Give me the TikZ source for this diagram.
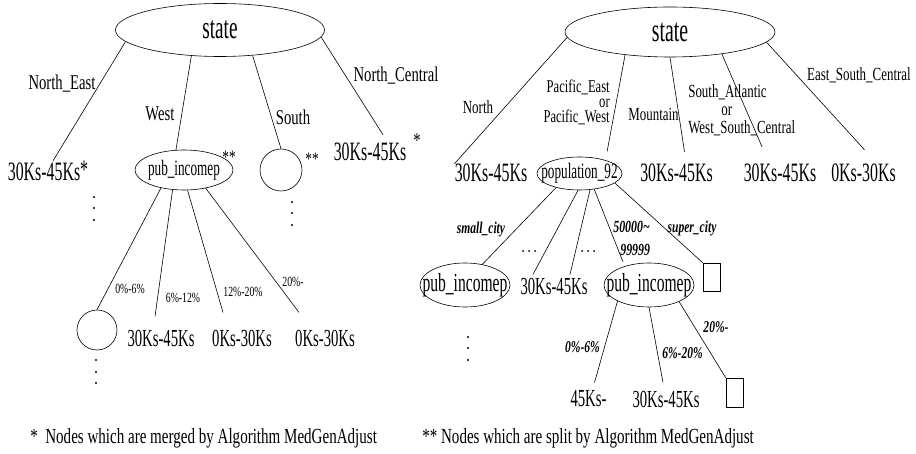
\documentclass[tikz,border=0pt]{standalone}
\usepackage{fontspec}
\setmainfont{Liberation Serif}[FakeStretch=0.7]
\newfontfamily\narrowrm{Liberation Serif}[FakeStretch=0.6]
\usetikzlibrary{shapes.geometric}

\begin{document}
\begin{tikzpicture}[x=1pt, y=-1pt, line width=0.6pt,
    fs/.style={font=\fontsize{#1}{#1}\selectfont},
    ns/.style={font=\fontsize{#1}{#1}\selectfont\narrowrm},
    ell/.style={draw, ellipse, inner sep=0pt},
    leaf/.style={inner sep=0pt, ns=26.5},
    leafs/.style={inner sep=0pt, ns=24.5},
    lbl/.style={inner sep=0pt, fs=21},
    lblr/.style={inner sep=0pt, fs=18.5},
    pct/.style={inner sep=0pt, fs=14},
    bil/.style={inner sep=0pt, font=\fontsize{16.5}{16.5}\selectfont\bfseries\itshape},
    foot/.style={inner sep=0pt, anchor=west, fs=21.5},
    box/.style={draw, inner sep=0pt, minimum width=17pt}]
    \useasboundingbox (0,0) rectangle (916,454);

    % left tree
    \node[ell, minimum width=209pt, minimum height=53pt, ns=32] (stL) at (220,30) {state};
    \node[leaf] (neL) at (48,171) {30Ks-45Ks\raisebox{2pt}{*}};
    \node[ell, minimum width=98pt, minimum height=40pt, ns=22] (puL) at (184,170) {\makebox[0pt]{pub\_incomep}};
    \node[inner sep=0pt, fs=19] (ssA) at (229,157) {**};
    \node[draw, circle, minimum size=42pt, inner sep=0pt] (soL) at (281,170) {};
    \node[inner sep=0pt, fs=19] (ssB) at (312,159) {**};
    \node[leaf] (ncL) at (370,152) {30Ks-45Ks};
    \node[inner sep=0pt, fs=21] (ssC) at (417,141) {*};

    \node[lbl] (tNE) at (62,84) {North\_East};
    \node[lbl] (tW) at (160,114) {West};
    \node[lbl] (tS) at (293,117) {South};
    \node[lbl] (tNC) at (396,76) {North\_Central};

    \draw (stL.187) -- ([xshift=5pt]neL.north);
    \draw (stL.222) -- (puL.112);
    \draw (stL.322) -- (soL.north);
    \draw (stL.356) -- ([xshift=13pt,yshift=8pt]ncL.north);

    % below pub_incomep
    \node[draw, circle, minimum size=40pt, inner sep=0pt] (c1L) at (97,330) {};
    \node[leafs] (c2L) at (161,338) {30Ks-45Ks};
    \node[leafs] (c3L) at (242,338) {0Ks-30Ks};
    \node[leafs] (c4L) at (325,338) {0Ks-30Ks};

    \draw (puL.218) -- (c1L.north);
    \draw (puL.240) -- ([xshift=-6pt,yshift=13pt]c2L.north);
    \draw (puL.280) -- ([xshift=-19pt,yshift=17pt]c3L.north);
    \draw (puL.320) -- ([xshift=-26pt,yshift=17pt]c4L.north);

    \node[pct] (p1L) at (130,289) {0\%-6\%};
    \node[pct] (p2L) at (183,298) {6\%-12\%};
    \node[pct] (p3L) at (243,292) {12\%-20\%};
    \node[pct] (p4L) at (293,282) {20\%-};

    % vertical dots
    \foreach \y in {197,208,220} \fill (94,\y) circle (1.1pt);
    \foreach \y in {202,213,225} \fill (292,\y) circle (1.1pt);
    \foreach \y in {360,372,383} \fill (96,\y) circle (1.1pt);

    % right tree
    \node[ell, minimum width=210pt, minimum height=50pt, ns=33] (stR) at (670,32) {state};
    \node[leaf] (noR) at (491,173) {30Ks-45Ks};
    \node[ell, minimum width=85pt, minimum height=33pt, ns=22] (poR) at (579.5,173.5) {\makebox[0pt]{population\_92}};
    \node[leaf] (moR) at (676.5,173) {30Ks-45Ks};
    \node[leaf] (saR) at (780,173) {30Ks-45Ks};
    \node[leaf] (esR) at (863.5,173) {0Ks-30Ks};

    \node[lblr] (tNo) at (478,107.5) {North};
    \node[lblr, align=right, anchor=east, font=\fontsize{18}{15}\selectfont] (tPa) at (610,102)
        {Pacific\_East\\or\hspace*{26pt}\\Pacific\_West};
    \node[lblr] (tMo) at (653.5,114) {Mountain};
    \node[lblr, align=left, anchor=west, font=\fontsize{18.5}{18}\selectfont] (tSA) at (688,110)
        {South\_Atlantic\\\hspace*{33pt}or\\West\_South\_Central};
    \node[lblr] (tES) at (859,75) {East\_South\_Central};

    \draw (stR.183) -- (noR.north west);
    \draw (stR.207) -- ([yshift=9pt]poR.25);
    \draw (stR.south) -- ([xshift=8pt,yshift=12pt]moR.north);
    \draw (stR.337) -- ([xshift=-18pt,yshift=17pt]saR.north);
    \draw (stR.354) -- ([xshift=1pt,yshift=14pt]esR.north);

    % below population_92
    \node[ell, minimum width=90pt, minimum height=44pt, ns=26] (plR) at (465,285) {\makebox[0pt]{pub\_incomep}};
    \node[leafs] (l2R) at (554,286) {30Ks-45Ks};
    \node[ell, minimum width=90pt, minimum height=44pt, ns=26] (prR) at (649,285) {\makebox[0pt]{pub\_incomep}};
    \node[box, minimum height=28pt] (b1R) at (711.5,277) {};

    \draw (poR.211) -- (plR.50);
    \draw (poR.265) -- ([xshift=-21pt,yshift=3pt]l2R.north);
    \draw (poR.303) -- ([xshift=16pt,yshift=3pt]l2R.north);
    \draw (poR.313) -- ([yshift=5pt]prR.145);
    \draw (poR.345) -- (b1R.north west);

    \node[bil] (tsc) at (481,230) {small\_city};
    \node[bil, align=left, anchor=west, font=\fontsize{17}{23}\selectfont\bfseries\itshape] (t5) at (613,238)
        {50000\textasciitilde\\\hspace*{7pt}99999};
    \node[bil] (tsu) at (692,229) {super\_city};

    % horizontal dots
    \foreach \x in {523,529,535} \fill (\x,251) circle (1pt);
    \foreach \x in {582,588,594} \fill (\x,251) circle (1pt);
    \foreach \y in {337,348,360} \fill (468,\y) circle (1.1pt);

    % below the right pub_incomep
    \node[leafs] (k4R) at (588.5,399) {45Ks-};
    \node[leafs] (l3R) at (666,399) {30Ks-45Ks};
    \node[box, minimum height=29pt] (b2R) at (734.5,392.5) {};

    \draw (prR.207) -- ([xshift=6pt,yshift=8pt]k4R.north);
    \draw (prR.south) -- ([xshift=-3pt,yshift=8pt]l3R.north);
    \draw (prR.331) -- (b2R.north west);

    \node[bil] (q1R) at (582.5,347) {0\%-6\%};
    \node[bil] (q2R) at (682.5,353) {6\%-20\%};
    \node[bil] (q3R) at (716,327) {20\%-};

    % notes
    \node[foot] (fnL) at (30,438) {*\ \ Nodes which are merged by Algorithm MedGenAdjust};
    \node[foot] (fnR) at (422,438) {** Nodes which are split by Algorithm MedGenAdjust};
\end{tikzpicture}
\end{document}
